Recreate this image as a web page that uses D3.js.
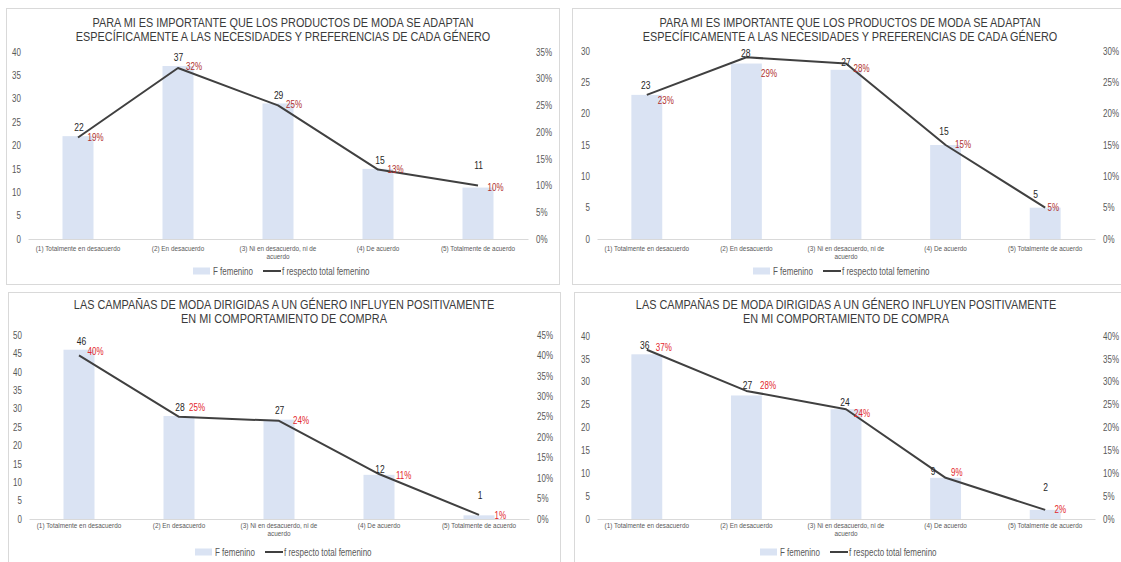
<!DOCTYPE html>
<html>
<head>
<meta charset="utf-8">
<script src="https://cdn.jsdelivr.net/npm/d3@7"></script>
<style>
  html, body { margin: 0; padding: 0; background: #fff; }
  svg { display: block; }
</style>
</head>
<body>
<svg id="chart" width="1121" height="562"></svg>
<script>
// ---- data ----------------------------------------------------------
const categories = [
  "(1) Totalmente en desacuerdo",
  "(2) En desacuerdo",
  "(3) Ni en desacuerdo, ni de acuerdo",
  "(4) De acuerdo",
  "(5) Totalmente de acuerdo"
];
const titleAdapt = [
  "PARA MI ES IMPORTANTE QUE LOS PRODUCTOS DE MODA SE ADAPTAN",
  "ESPECÍFICAMENTE A LAS NECESIDADES Y PREFERENCIAS DE CADA GÉNERO"
];
const titleCampaign = [
  "LAS CAMPAÑAS DE MODA DIRIGIDAS A UN GÉNERO INFLUYEN POSITIVAMENTE",
  "EN MI COMPORTAMIENTO DE COMPRA"
];
const legendLabels = ["F femenino", "f respecto total femenino"];

// counts (F femenino) and share of the female total (%)
const adaptCountsA = [22, 37, 29, 15, 11];
const adaptPctA    = [19, 32, 25, 13, 10];
const adaptCountsB = [23, 28, 27, 15, 5];
const adaptPctB    = [23, 29, 28, 15, 5];
const campCountsA  = [46, 28, 27, 12, 1];
const campPctA     = [40, 25, 24, 11, 1];
const campCountsB  = [36, 27, 24, 9, 2];
const campPctB     = [37, 28, 24, 9, 2];

// axis maxima (left: counts, right: percent), ticks every 5
const countMax = [40, 30, 50, 40];
const pctMax   = [35, 30, 45, 40];

// ---- styling -------------------------------------------------------
const FONT = "'Liberation Sans', Arial, Helvetica, sans-serif";
const BAR = "#dae3f3";
const LINE = "#404040";
const AXIS_TXT = "#595959";
const BORDER = "#d9d9d9";
const SX = 0.8; // horizontal text compression

// panel layout: frame, plot range, text rows, label nudges
const panels = [
  { title: titleAdapt, counts: adaptCountsA, pct: adaptPctA, cMax: countMax[0], pMax: pctMax[0],
    frame: [6.5, 8.5, 559.5, 284.5], xr: [28, 528], yr: [239, 52], titleY: [23, 36.3], titleX: 283,
    catY: 248, legY: 271, legX: 193, pctColor: "#b0302e",
    cntOff: [[1, -8.5], [0.5, -8.7], [0.6, -8.4], [2, -8.2], [0.6, -21.6]],
    pctOff: [[9.5, 0], [8, -1.3], [8, -1.4], [9.5, 0], [9.5, 2]] },
  { title: titleAdapt, counts: adaptCountsB, pct: adaptPctB, cMax: countMax[1], pMax: pctMax[1],
    frame: [572.5, 8.5, 1126, 284.5], xr: [597, 1095], yr: [239, 51], titleY: [23, 36.3], titleX: 850,
    catY: 248, legY: 271, legX: 753, pctColor: "#b0302e",
    cntOff: [[-1, -9], [-0.7, -10.5], [0, -7], [-1.6, -14], [-9.5, -12.7]],
    pctOff: [[11, 6], [14.6, 16.7], [7.6, 4.8], [9.4, -1], [2.3, 0]] },
  { title: titleCampaign, counts: campCountsA, pct: campPctA, cMax: countMax[2], pMax: pctMax[2],
    frame: [8.5, 292.5, 560.5, 570], xr: [29, 529], yr: [519, 335], titleY: [304.5, 318.5], titleX: 284,
    catY: 525.5, legY: 552, legX: 195, pctColor: "#e3262b",
    cntOff: [[2.4, -8], [1, -8.3], [0.6, -9.6], [1, -5.5], [1, -20.3]],
    pctOff: [[8.5, -4.4], [10, -9], [14, 0], [17, 1], [15.6, 1]] },
  { title: titleCampaign, counts: campCountsB, pct: campPctB, cMax: countMax[3], pMax: pctMax[3],
    frame: [574.5, 292.5, 1126, 570], xr: [597, 1095], yr: [519, 336], titleY: [304.5, 318.5], titleX: 846,
    catY: 525.5, legY: 552, legX: 760, pctColor: "#e3262b",
    cntOff: [[-2, -8.5], [1, -9.5], [-1, -7], [-12.6, -6.5], [0.5, -22.8]],
    pctOff: [[9, -2.5], [13.6, -5], [8, 4], [5.4, -5.8], [9.4, 0]] }
];

const svg = d3.select("#chart").attr("font-family", FONT);

// text drawn with a horizontal squeeze around its anchor point
function label(g, x, y, str, o) {
  return g.append("text")
    .attr("transform", `translate(${x},${y}) scale(${o.sx || SX},1)`)
    .attr("dy", "0.35em")
    .attr("text-anchor", o.anchor || "start")
    .attr("font-size", o.size)
    .attr("fill", o.color)
    .text(str);
}

panels.forEach(p => {
  const g = svg.append("g");
  const [fx0, fy0, fx1, fy1] = p.frame;

  // chart frame
  g.append("rect")
    .attr("x", fx0).attr("y", fy0)
    .attr("width", fx1 - fx0).attr("height", fy1 - fy0)
    .attr("fill", "#fff").attr("stroke", BORDER).attr("stroke-width", 1);

  // title
  p.title.forEach((t, i) => label(g, p.titleX, p.titleY[i], t,
    { anchor: "middle", size: 12.5, color: "#3a3a3a", sx: 0.87 }));

  // scales
  const x = d3.scaleBand().domain(categories).range(p.xr).paddingInner(0).paddingOuter(0);
  const y = d3.scaleLinear().domain([0, p.cMax]).range(p.yr);
  const yp = d3.scaleLinear().domain([0, p.pMax]).range(p.yr);
  const bw = x.bandwidth() * 0.31;
  const cx = c => x(c) + x.bandwidth() / 2;

  // left axis (counts)
  const gl = g.append("g").attr("transform", `translate(${p.xr[0]},0)`)
    .call(d3.axisLeft(y).tickValues(d3.range(0, p.cMax + 1, 5)).tickSize(0).tickPadding(0));
  gl.attr("font-family", FONT);
  gl.select(".domain").remove();
  gl.selectAll("text").attr("x", -7 / SX).attr("transform", `scale(${SX},1)`)
    .attr("font-size", 10).attr("fill", AXIS_TXT);

  // right axis (percent)
  const gr = g.append("g").attr("transform", `translate(${p.xr[1]},0)`)
    .call(d3.axisRight(yp).tickValues(d3.range(0, p.pMax + 1, 5)).tickSize(0).tickPadding(0)
      .tickFormat(d => d + "%"));
  gr.attr("font-family", FONT);
  gr.select(".domain").remove();
  gr.selectAll("text").attr("x", 8 / SX).attr("transform", `scale(${SX},1)`)
    .attr("font-size", 10).attr("fill", AXIS_TXT);

  // category axis (baseline only; labels drawn below with wrapping)
  const gb = g.append("g").attr("transform", `translate(0,${p.yr[0]})`)
    .call(d3.axisBottom(x).tickSize(0).tickSizeOuter(0).tickFormat(""));
  gb.select(".domain").attr("stroke", BORDER).attr("stroke-width", 1);
  gb.selectAll(".tick").remove();

  // bars
  g.append("g").selectAll("rect").data(p.counts).join("rect")
    .attr("x", (d, i) => cx(categories[i]) - bw / 2)
    .attr("y", d => y(d))
    .attr("width", bw)
    .attr("height", d => y(0) - y(d))
    .attr("fill", BAR);

  // line of percentages
  const line = d3.line().x((d, i) => cx(categories[i])).y(d => yp(d));
  g.append("path").datum(p.pct)
    .attr("d", line).attr("fill", "none")
    .attr("stroke", LINE).attr("stroke-width", 2).attr("stroke-linejoin", "round");

  // count labels
  p.counts.forEach((d, i) => {
    const [dx, dy] = p.cntOff[i];
    label(g, cx(categories[i]) + dx, y(d) + dy, String(d),
      { anchor: "middle", size: 10, color: "#262626", sx: 0.85 });
  });

  // percentage labels
  p.pct.forEach((d, i) => {
    const [dx, dy] = p.pctOff[i];
    label(g, cx(categories[i]) + dx, yp(d) + dy, d + "%",
      { size: 10, color: p.pctColor });
  });

  // category labels, wrapped to the slot width
  const catSX = 0.85, catSize = 7.5, maxW = 92;
  categories.forEach(c => {
    const t = label(g, cx(c), p.catY, c, { anchor: "middle", size: catSize, color: AXIS_TXT, sx: catSX });
    if (t.node().getComputedTextLength() * catSX > maxW) {
      const words = c.split(" ");
      const lines = [];
      let cur = [];
      t.text("");
      words.forEach(w => {
        cur.push(w);
        t.text(cur.join(" "));
        if (t.node().getComputedTextLength() * catSX > maxW && cur.length > 1) {
          cur.pop();
          lines.push(cur.join(" "));
          cur = [w];
        }
      });
      lines.push(cur.join(" "));
      t.text("");
      lines.forEach((ln, k) => t.append("tspan").attr("x", 0).attr("dy", k === 0 ? "0.35em" : "1.1em").text(ln));
      t.attr("dy", null);
    }
  });

  // legend
  const L = p.legX;
  g.append("rect").attr("x", L).attr("y", p.legY - 3.5).attr("width", 17).attr("height", 7).attr("fill", BAR);
  label(g, L + 20, p.legY, legendLabels[0], { size: 10, color: AXIS_TXT });
  g.append("line").attr("x1", L + 70).attr("x2", L + 88).attr("y1", p.legY).attr("y2", p.legY)
    .attr("stroke", LINE).attr("stroke-width", 2);
  label(g, L + 89, p.legY, legendLabels[1], { size: 10, color: AXIS_TXT });
});
</script>
</body>
</html>
